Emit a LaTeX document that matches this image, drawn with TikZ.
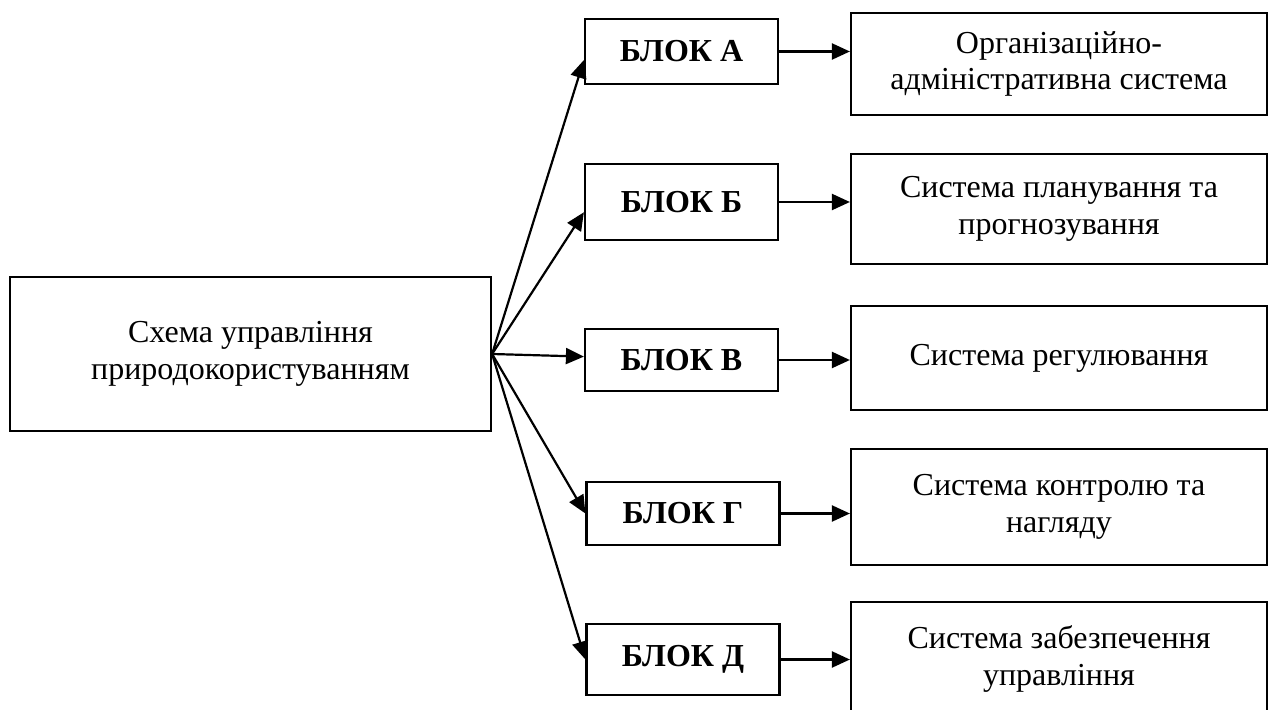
\documentclass[tikz,border=0pt]{standalone}
\usepackage{fontspec}
\setmainfont{Liberation Serif}
\usetikzlibrary{arrows.meta}
\begin{document}
\begin{tikzpicture}[x=0.5pt, y=-0.5pt,
                    box/.style={rectangle, draw, line width=1.1pt, inner sep=0pt, align=center},
                    blok/.style={box, minimum width=96.5pt, font=\bfseries},
                    sys/.style={box, minimum width=208pt},
                    arr/.style={-{Triangle[length=9pt,width=8pt]}, line width=1.1pt}]
\fontsize{16}{18.3}\selectfont
\useasboundingbox (0,0) rectangle (1277,710);

\node[box, minimum width=240.5pt, minimum height=77pt] (schema) at (250.5,354)
    {Схема управління\\ природокористуванням};

\node[blok, minimum height=32.5pt] (blokA) at (681.5,51.5) {БЛОК А};
\node[blok, minimum height=38pt]   (blokB) at (681.5,202)  {БЛОК Б};
\node[blok, minimum height=31pt]   (blokV) at (681.5,360)  {БЛОК В};
\node[blok, minimum height=31.5pt] (blokG) at (683,513.5)  {БЛОК Г};
\node[blok, minimum height=35.5pt] (blokD) at (683,659.5)  {БЛОК Д};

\node[sys, minimum height=51pt] (sysA) at (1059,64)  {Організаційно-\\ адміністративна система};
\node[sys, minimum height=55pt] (sysB) at (1059,209) {Система планування та\\ прогнозування};
\node[sys, minimum height=52pt] (sysV) at (1059,358) {Система регулювання};
\node[sys, minimum height=58pt] (sysG) at (1059,507) {Система контролю та\\ нагляду};
\node[sys, minimum height=57pt] (sysD) at (1059,659) {Система забезпечення\\ управління};

% from the scheme to the blocks
\draw[arr] (schema.-0.7) -- (blokA.185);
\draw[arr] (schema.-0.7) -- (blokB.186);
\draw[arr] (schema.-0.7) -- (blokV.178);
\draw[arr] (schema.-0.7) -- (blokG.west);
\draw[arr] (schema.-0.7) -- (blokD.west);

% from the blocks to the systems
\draw[arr] (blokA.east) -- (blokA.east -| sysA.west);
\draw[arr] (blokB.east) -- (blokB.east -| sysB.west);
\draw[arr] (blokV.east) -- (blokV.east -| sysV.west);
\draw[arr] (blokG.east) -- (blokG.east -| sysG.west);
\draw[arr] (blokD.east) -- (blokD.east -| sysD.west);
\end{tikzpicture}
\end{document}
